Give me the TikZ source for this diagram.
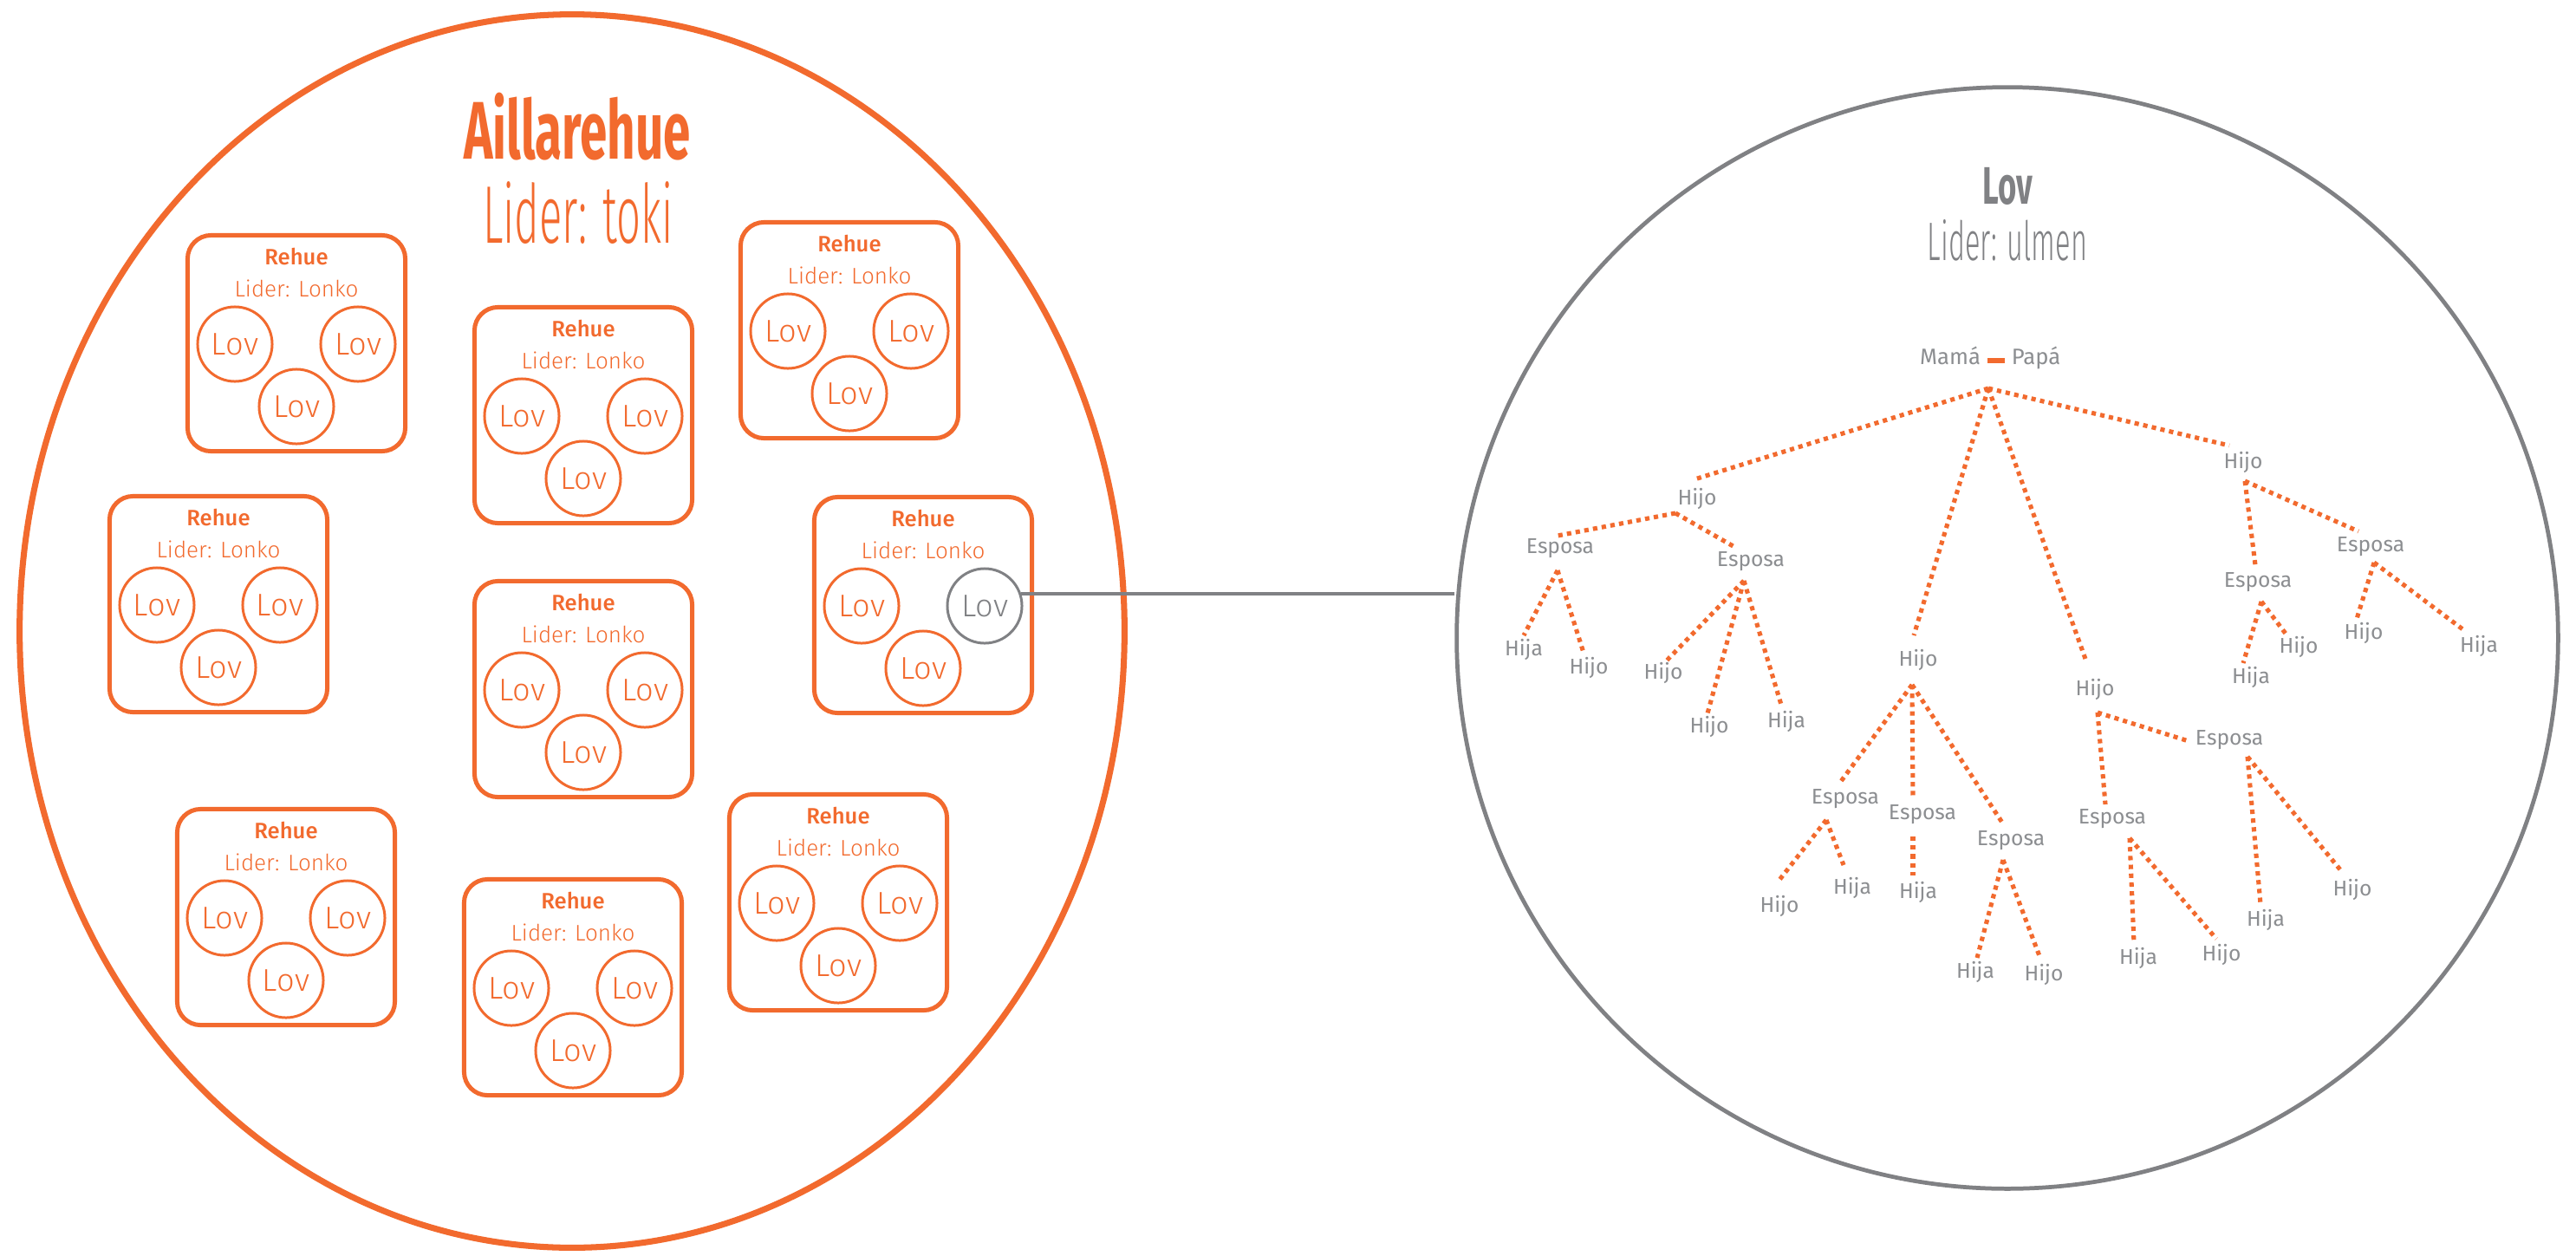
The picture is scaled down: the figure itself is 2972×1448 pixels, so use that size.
\documentclass[tikz,border=0pt]{standalone}
\usepackage{fontspec}
\setmainfont{Fira Sans}
\newfontfamily\condfont{Fira Sans}[FakeStretch=0.6]
\IfFontExistsTF{Fira Sans Light}
  {\newfontfamily\condlight{Fira Sans Light}[FakeStretch=0.52]
   \newfontfamily\lightfont{Fira Sans Light}}
  {\newfontfamily\condlight{Fira Sans}[FakeStretch=0.52]
   \newfontfamily\lightfont{Fira Sans}}
\IfFontExistsTF{Fira Sans Medium}
  {\newfontfamily\medfont{Fira Sans Medium}}
  {\newfontfamily\medfont{Fira Sans}[UprightFont=*-Bold]}
\usetikzlibrary{shapes.geometric}
\definecolor{orng}{RGB}{242,106,46}
\definecolor{gry}{RGB}{128,129,132}
\definecolor{lgry}{RGB}{140,142,145}
\begin{document}
\begin{tikzpicture}[x=0.01cm,y=-0.01cm,
  rehuebox/.style={draw=orng, line width=1.42pt, rounded corners=0.27cm, minimum width=2.51cm, minimum height=2.49cm, inner sep=0pt},
  lovc/.style={circle, draw=orng, line width=0.85pt, minimum size=0.86cm, inner sep=0pt, text=orng, font=\lightfont\fontsize{10.3}{12}\selectfont},
  rtitle/.style={text=orng, font=\medfont\fontsize{7.3}{8}\selectfont, anchor=base, inner sep=0pt},
  rlider/.style={text=orng, font=\lightfont\fontsize{7.4}{8}\selectfont, anchor=base, inner sep=0pt},
  lbl/.style={text=lgry, font=\fontsize{7}{8}\selectfont, anchor=base, inner sep=0pt},
  dotline/.style={draw=orng, line width=1.45pt, dash pattern=on 1.45pt off 1.45pt}]
\fill[white] (0,0) rectangle (2972,1448);
\useasboundingbox (0,0) rectangle (2972,1448);

% big containers
\node[ellipse, draw=orng, line width=2pt, minimum width=12.74cm, minimum height=14.22cm, inner sep=0pt] (bigL) at (660,728) {};
\node[circle, draw=gry, line width=1.35pt, minimum size=12.7cm, inner sep=0pt] (lovR) at (2316,736) {};

% titles
\node[font=\condfont\bfseries\fontsize{26.8}{30}\selectfont, text=orng, anchor=base, inner sep=0pt] (tA) at (666,183) {Aillarehue};
\node[font=\condlight\fontsize{26.8}{30}\selectfont, text=orng, anchor=base, inner sep=0pt] (tA2) at (667,280) {Lider: toki};
\node[font=\condfont\bfseries\fontsize{17.3}{20}\selectfont, text=gry, anchor=base, inner sep=0pt] (tL) at (2316,235) {Lov};
\node[font=\condlight\fontsize{17.8}{20}\selectfont, text=gry, anchor=base, inner sep=0pt] (tL2) at (2316,300) {Lider: ulmen};

% Rehue boxes
\foreach \n/\x/\y in {1/342/396, 2/673/479, 3/980/381, 4/252/697, 5/673/795, 6/1065/698, 7/330/1058, 8/661/1139, 9/967/1041} {
  \ifnum\n=6 \def\cc{gry}\else\def\cc{orng}\fi
  \node[rehuebox] (r\n) at (\x,\y) {};
  \node[rtitle] (r\n-t) at ({\x},{\y-91}) {Rehue};
  \node[rlider] (r\n-l) at ({\x},{\y-54}) {Lider: Lonko};
  \node[lovc] (r\n-a) at ({\x-71},{\y+1}) {Lov};
  \node[lovc, draw=\cc, text=\cc] (r\n-b) at ({\x+71},{\y+1}) {Lov};
  \node[lovc] (r\n-c) at ({\x},{\y+73}) {Lov};
}

% link from the gray Lov to the big Lov circle
\draw[gry, line width=1.25pt] (r6-b.18) -- (r6-b.18 -| lovR.west);

% family tree
\node[lbl, font=\fontsize{7.3}{8}\selectfont] (mama) at (2250,420) {Mamá};
\node[lbl, font=\fontsize{7.3}{8}\selectfont] (papa) at (2349,420) {Papá};
\node[fill=orng, minimum width=0.2cm, minimum height=0.06cm, inner sep=0pt] (bar) at (2303,416) {};
\coordinate (root) at (2294,448);

\foreach \nm/\t/\x/\y in {hL/Hijo/1958/582, eA/Esposa/1800/638, eB/Esposa/2020/653,
  a1/Hija/1758/756, a2/Hijo/1833/777, b1/Hijo/1919/783, b2/Hijo/1972/845, b3/Hija/2061/839,
  hM/Hijo/2213/768, m1/Esposa/2129/927, m2/Esposa/2218/945, m3/Esposa/2320/975,
  m1a/Hijo/2053/1052, m1b/Hija/2137/1031, m2a/Hija/2213/1036, m3a/Hija/2279/1128, m3b/Hijo/2358/1131,
  hN/Hijo/2417/802, n1/Esposa/2437/950, n2/Esposa/2572/859,
  n1a/Hija/2467/1112, n1b/Hijo/2563/1108, n2a/Hija/2614/1068, n2b/Hijo/2714/1033,
  hR/Hijo/2588/540, r1/Esposa/2605/677, r2/Esposa/2735/636,
  r1a/Hija/2597/788, r1b/Hijo/2652/753, r2a/Hijo/2727/737, r2b/Hija/2860/752} {
  \node[lbl] (\nm) at (\x,\y) {\t};
}

\foreach \nm/\x/\y in {hL-t/1955/553, hL-b/1933/592, eA-t/1797/618, eA-b/1797/658,
  eB-t/2003/632, eB-b/2012/670, a1-t/1758/733, a2-t/1827/753,
  b1-t/1920/765, b2-t/1970/823, b3-t/2055/813,
  hM-t/2208/733, hM-b/2206/790, m1-t/2122/904, m1-b/2107/946,
  m2-t/2207/920, m2-b/2207/965, m3-t/2312/952, m3-b/2311/992,
  m1a-t/2053/1015, m1b-t/2127/998, m2a-t/2207/1010, m3a-t/2281/1105, m3b-t/2353/1103,
  hN-t/2407/763, hN-b/2420/822, n1-t/2429/928, n1-b/2457/967,
  n2-t/2525/855, n2-b/2593/873,
  n1a-t/2462/1088, n1b-t/2557/1083, n2a-t/2608/1043, n2b-t/2703/1007,
  hR-t/2572/514, hR-b/2590/555, r1-t/2602/652, r1-b/2609/694,
  r2-t/2721/613, r2-b/2739/649,
  r1a-t/2588/765, r1b-t/2637/731, r2a-t/2719/714, r2b-t/2844/728} {
  \coordinate (\nm) at (\x,\y);
}

\foreach \a/\b in {root/hL-t, root/hM-t, root/hN-t, root/hR-t,
  hL-b/eA-t, hL-b/eB-t, eA-b/a1-t, eA-b/a2-t,
  eB-b/b1-t, eB-b/b2-t, eB-b/b3-t,
  hM-b/m1-t, hM-b/m2-t, hM-b/m3-t,
  m1-b/m1a-t, m1-b/m1b-t, m2-b/m2a-t, m3-b/m3a-t, m3-b/m3b-t,
  hN-b/n1-t, hN-b/n2-t, n1-b/n1a-t, n1-b/n1b-t, n2-b/n2a-t, n2-b/n2b-t,
  hR-b/r1-t, hR-b/r2-t, r1-b/r1a-t, r1-b/r1b-t, r2-b/r2a-t, r2-b/r2b-t} {
  \draw[dotline] (\a) -- (\b);
}
\end{tikzpicture}
\end{document}
